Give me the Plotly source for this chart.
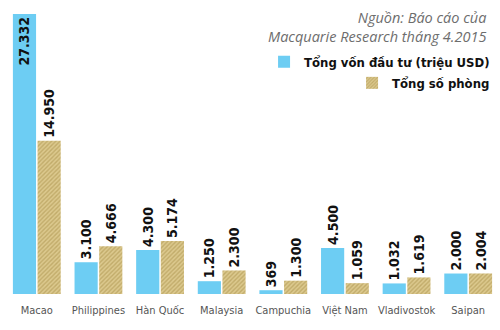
import plotly.graph_objects as go

categories = ["Macao", "Philippines", "Hàn Quốc", "Malaysia", "Campuchia", "Việt Nam", "Vladivostok", "Saipan"]
von_dau_tu = [27332, 3100, 4300, 1250, 369, 4500, 1032, 2000]
so_phong = [14950, 4666, 5174, 2300, 1300, 1059, 1619, 2004]
von_labels = ["27.332", "3.100", "4.300", "1.250", "369", "4.500", "1.032", "2.000"]
phong_labels = ["14.950", "4.666", "5.174", "2.300", "1.300", "1.059", "1.619", "2.004"]

BLUE = "#6dcdf3"
NARROW = "DejaVu Sans Condensed, Roboto, sans-serif"

fig = go.Figure()
fig.add_trace(go.Bar(
    x=categories, y=von_dau_tu, name="Tổng vốn đầu tư (triệu USD)",
    marker=dict(color=BLUE, line=dict(width=0)),
    text=von_labels,
    textposition=["inside"] + ["outside"] * 7,
    insidetextanchor="end",
    textangle=-90,
    constraintext="none",
    textfont=dict(family=NARROW, size=14, color="#111111", weight="bold"),
    cliponaxis=False,
    legend="legend",
    showlegend=True,
))
fig.add_trace(go.Bar(
    x=categories, y=so_phong, name="Tổng số phòng",
    marker=dict(color="#d8c282", line=dict(width=0),
                pattern=dict(shape="/", bgcolor="#dcc98e", fgcolor="#a68d45", size=3, solidity=0.45)),
    text=phong_labels,
    textposition="outside",
    textangle=-90,
    constraintext="none",
    textfont=dict(family=NARROW, size=14, color="#111111", weight="bold"),
    cliponaxis=False,
    legend="legend2",
    showlegend=True,
))

legend_common = dict(
    xanchor="right", yanchor="middle", bgcolor="rgba(0,0,0,0)", borderwidth=0,
    font=dict(family=NARROW, size=13, color="#111111", weight="bold"),
    itemwidth=30, tracegroupgap=0,
)

fig.update_layout(
    width=500, height=330,
    margin=dict(l=6, r=1, t=0, b=36),
    paper_bgcolor="white", plot_bgcolor="white",
    showlegend=True,
    barmode="group", bargap=0.2, bargroupgap=0.06,
    xaxis=dict(showgrid=False, showline=False, zeroline=False, ticks="",
               ticklabelstandoff=8,
               tickfont=dict(family=NARROW, size=11, color="#555555")),
    yaxis=dict(visible=False, range=[0, 28700]),
    legend=dict(x=0.992, y=0.79, **legend_common),
    legend2=dict(x=0.992, y=0.718, **legend_common),
    annotations=[
        dict(text="Nguồn: Báo cáo của<br>Macquarie Research tháng 4.2015",
             xref="paper", yref="paper", x=0.978, y=0.98, xanchor="right", yanchor="top",
             align="right", showarrow=False,
             font=dict(family="Open Sans, sans-serif", size=14.5, color="#6d6d6d", style="italic")),
    ],
)

fig.write_html("out.html")
